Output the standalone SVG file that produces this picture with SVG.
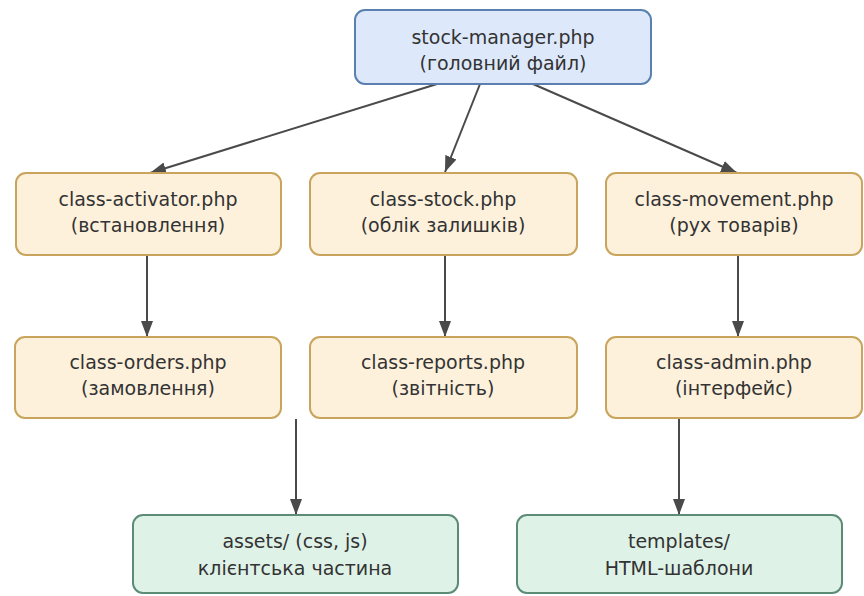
<svg xmlns="http://www.w3.org/2000/svg" width="864" height="596" viewBox="0 0 864 596">
<defs>
<style>
.t{font-family:"DejaVu Sans","Noto Sans",sans-serif;font-size:19px;fill:#333;text-anchor:middle}
.blue{fill:#dde9fb;stroke:#5a80b0;stroke-width:2}
.org{fill:#fdf1dc;stroke:#c9a45c;stroke-width:2}
.grn{fill:#dff2e8;stroke:#5d8c76;stroke-width:2}
.c{stroke:#4a4a4a;stroke-width:2;fill:none;marker-end:url(#ah)}
</style>
<marker id="ah" viewBox="0 0 16 12" refX="16" refY="6" markerWidth="16" markerHeight="12" markerUnits="userSpaceOnUse" orient="auto">
<path d="M0,0 L16,6 L0,12 z" fill="#4a4a4a"/>
</marker>
</defs>
<rect width="864" height="596" fill="#ffffff"/>
<g id="connectors">
<line class="c" x1="437" y1="84" x2="150" y2="173"/>
<line class="c" x1="480" y1="84" x2="445" y2="172"/>
<line class="c" x1="533" y1="84" x2="737" y2="173"/>
<line class="c" x1="147" y1="255" x2="147" y2="337"/>
<line class="c" x1="445" y1="255" x2="445" y2="337"/>
<line class="c" x1="738" y1="255" x2="738" y2="337"/>
<line class="c" x1="296" y1="419" x2="296" y2="515"/>
<line class="c" x1="679" y1="419" x2="679" y2="515"/>
</g>
<g id="stock-manager">
<rect class="blue" x="355" y="10" width="296" height="74" rx="10"/>
<text class="t" x="503" y="44">stock-manager.php</text>
<text class="t" x="503" y="70">(головний файл)</text>
</g>
<g id="class-activator">
<rect class="org" x="16" y="173" width="265" height="82" rx="10"/>
<text class="t" x="148" y="206">class-activator.php</text>
<text class="t" x="148" y="232">(встановлення)</text>
</g>
<g id="class-stock">
<rect class="org" x="310" y="173" width="267" height="82" rx="10"/>
<text class="t" x="443" y="206">class-stock.php</text>
<text class="t" x="443" y="232">(облік залишків)</text>
</g>
<g id="class-movement">
<rect class="org" x="606" y="173" width="256" height="82" rx="10"/>
<text class="t" x="734" y="206">class-movement.php</text>
<text class="t" x="734" y="232">(рух товарів)</text>
</g>
<g id="class-orders">
<rect class="org" x="15" y="337" width="266" height="81" rx="10"/>
<text class="t" x="148" y="369">class-orders.php</text>
<text class="t" x="148" y="395">(замовлення)</text>
</g>
<g id="class-reports">
<rect class="org" x="310" y="337" width="267" height="81" rx="10"/>
<text class="t" x="443" y="369">class-reports.php</text>
<text class="t" x="443" y="395">(звітність)</text>
</g>
<g id="class-admin">
<rect class="org" x="606" y="337" width="256" height="81" rx="10"/>
<text class="t" x="734" y="369">class-admin.php</text>
<text class="t" x="734" y="395">(інтерфейс)</text>
</g>
<g id="assets">
<rect class="grn" x="133" y="515" width="325" height="78" rx="10"/>
<text class="t" x="295" y="548">assets/ (css, js)</text>
<text class="t" x="295" y="575">клієнтська частина</text>
</g>
<g id="templates">
<rect class="grn" x="517" y="515" width="325" height="78" rx="10"/>
<text class="t" x="679" y="548">templates/</text>
<text class="t" x="679" y="575">HTML-шаблони</text>
</g>
</svg>
